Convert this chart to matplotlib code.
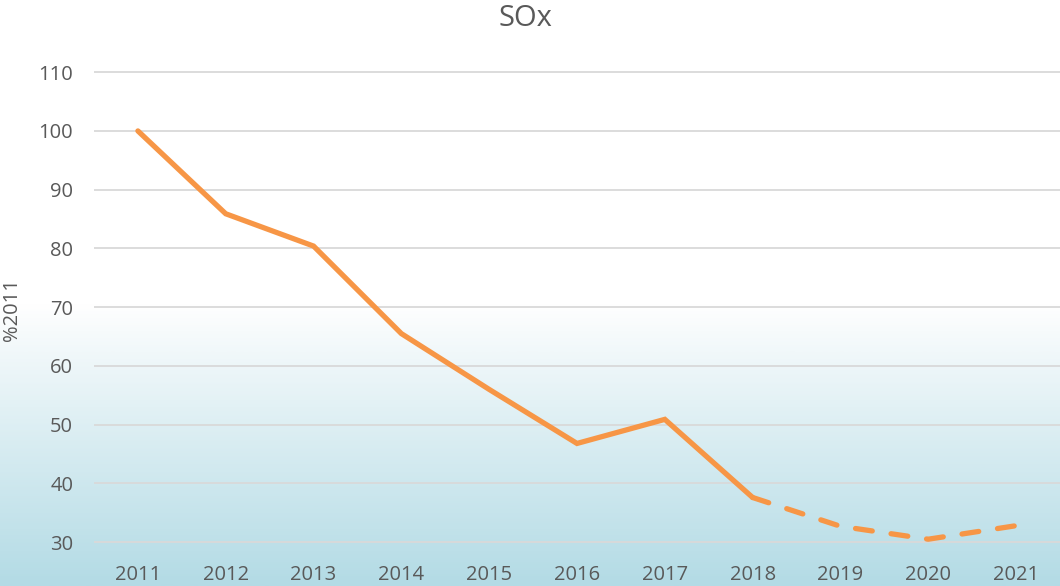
import matplotlib.pyplot as plt
import numpy as np
from matplotlib.colors import LinearSegmentedColormap

# --- values (% of 2011) ---
years = ['2011', '2012', '2013', '2014', '2015', '2016', '2017', '2018', '2019', '2020', '2021']
actual = [100, 85.9, 80.4, 65.5, 56.0, 46.8, 50.9, 37.6]          # 2011-2018, solid
projected = [37.6, 32.7, 30.5, 32.8]                               # 2018-2021, dashed
y_ticks = [30, 40, 50, 60, 70, 80, 90, 100, 110]

line_color = '#F79646'
text_color = '#595959'

plt.rcParams['font.family'] = ['Open Sans', 'DejaVu Sans']

fig = plt.figure(figsize=(10.6, 5.86), dpi=100)

# background gradient: white on top, light blue towards the bottom
bg = fig.add_axes([0, 0, 1, 1], zorder=-10)
grad_cmap = LinearSegmentedColormap.from_list(
    'bg', [(0.0, '#ffffff'), (0.52, '#ffffff'), (0.6, '#f1f8fa'), (1.0, '#b3dbe5')])
bg.imshow(np.linspace(0, 1, 400).reshape(-1, 1), aspect='auto', cmap=grad_cmap,
          extent=[0, 1, 1, 0])
bg.axis('off')

ax = fig.add_axes([94 / 1060, 28 / 586, 966 / 1060, 514 / 586])
ax.patch.set_alpha(0)

x_all = np.arange(len(years))
ax.plot(x_all[:len(actual)], actual, color=line_color, lw=3.8, solid_capstyle='round',
        solid_joinstyle='miter')
ax.plot(x_all[len(actual) - 1:], projected, color=line_color, lw=3.8,
        dashes=(3.2, 3.6), dash_capstyle='round')

ax.set_xlim(-0.5, len(years) - 0.5)
ax.set_ylim(27.3, 114.8)
ax.set_yticks(y_ticks)
ax.set_xticks(x_all)
ax.set_xticklabels(years)
ax.grid(axis='y', color='#d9d9d9', lw=1.3)
ax.set_axisbelow(True)
for s in ax.spines.values():
    s.set_visible(False)
ax.tick_params(length=0, labelsize=14.5, colors=text_color)
ax.tick_params(axis='y', pad=15)
ax.tick_params(axis='x', pad=5)

fig.text(12 / 1060, 1 - 310 / 586, '%2011', rotation=90, ha='center', va='center',
         fontsize=14.5, color=text_color)
fig.text(525 / 1060, 1 - 19 / 586, 'SOx', ha='center', va='center',
         fontsize=21, color=text_color)

fig.savefig('out.png', dpi=100)
